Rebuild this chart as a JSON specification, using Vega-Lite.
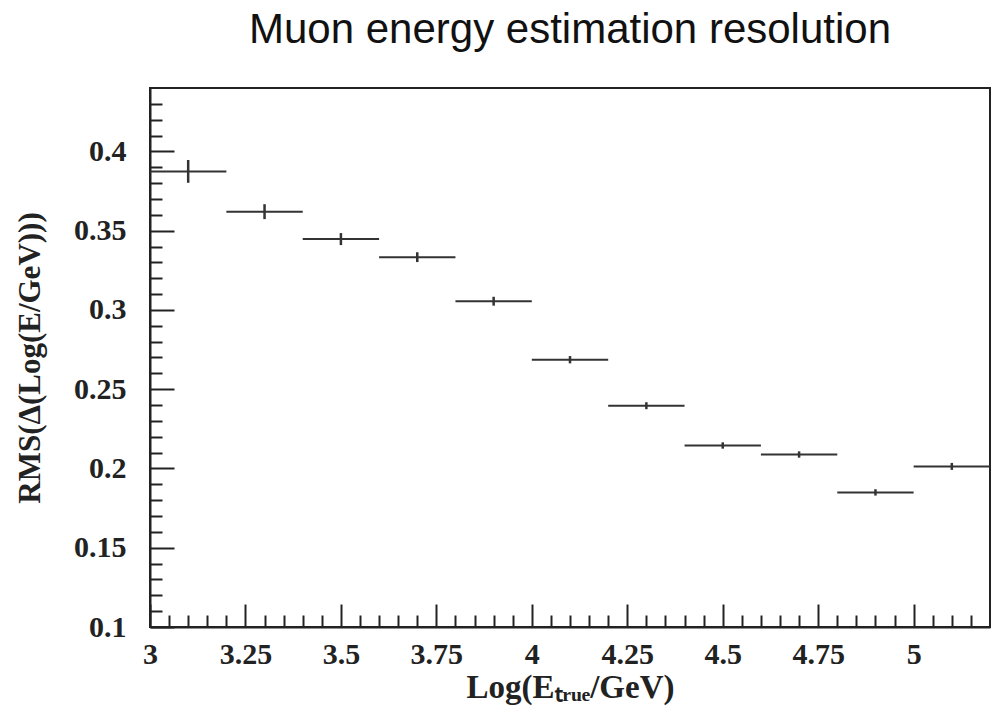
{
  "$schema": "https://vega.github.io/schema/vega-lite/v6.json",
  "width": 840,
  "height": 539,
  "autosize": {"type": "none"},
  "padding": {"left": 150, "top": 88, "right": 8, "bottom": 87},
  "background": "white",
  "title": {
    "text": "Muon energy estimation resolution",
    "font": "Liberation Sans",
    "fontSize": 42,
    "fontWeight": "normal",
    "color": "#111",
    "anchor": "middle",
    "offset": 36
  },
  "config": {
    "view": {"stroke": "#222", "strokeWidth": 2},
    "axis": {
      "grid": false,
      "domainColor": "#222",
      "domainWidth": 2,
      "tickColor": "#222",
      "tickWidth": 2,
      "labelFont": "Liberation Serif",
      "labelFontWeight": "bold",
      "labelColor": "#222",
      "titleFont": "Liberation Serif",
      "titleFontWeight": "bold",
      "titleColor": "#222"
    }
  },
  "data": {
    "values": [
      {"x0": 3.0, "x1": 3.2, "xc": 3.1, "y": 0.3874, "err": 0.0072},
      {"x0": 3.2, "x1": 3.4, "xc": 3.3, "y": 0.362, "err": 0.0047},
      {"x0": 3.4, "x1": 3.6, "xc": 3.5, "y": 0.3447, "err": 0.0038},
      {"x0": 3.6, "x1": 3.8, "xc": 3.7, "y": 0.3333, "err": 0.0031},
      {"x0": 3.8, "x1": 4.0, "xc": 3.9, "y": 0.3055, "err": 0.0028},
      {"x0": 4.0, "x1": 4.2, "xc": 4.1, "y": 0.2686, "err": 0.0023},
      {"x0": 4.2, "x1": 4.4, "xc": 4.3, "y": 0.2396, "err": 0.0022},
      {"x0": 4.4, "x1": 4.6, "xc": 4.5, "y": 0.2145, "err": 0.002},
      {"x0": 4.6, "x1": 4.8, "xc": 4.7, "y": 0.2088, "err": 0.002},
      {"x0": 4.8, "x1": 5.0, "xc": 4.9, "y": 0.1849, "err": 0.002},
      {"x0": 5.0, "x1": 5.2, "xc": 5.1, "y": 0.2013, "err": 0.0022}
    ]
  },
  "transform": [
    {"calculate": "datum.y - datum.err", "as": "ylo"},
    {"calculate": "datum.y + datum.err", "as": "yhi"}
  ],
  "resolve": {"axis": {"x": "independent", "y": "independent"}},
  "layer": [
    {
      "mark": {"type": "rule", "color": "#333", "strokeWidth": 2},
      "encoding": {
        "x": {
          "field": "x0", "type": "quantitative",
          "scale": {"domain": [3, 5.2], "nice": false, "zero": false},
          "axis": {
            "orient": "bottom",
            "values": [3, 3.25, 3.5, 3.75, 4, 4.25, 4.5, 4.75, 5],
            "labelExpr": "'' + datum.value",
            "tickSize": -23,
            "labelPadding": 35,
            "labelFontSize": 30,
            "labelFlush": false,
            "title": "Log(Eₜᵣᵤₑ/GeV)",
            "titleFontSize": 33,
            "titlePadding": 2
          }
        },
        "x2": {"field": "x1"},
        "y": {
          "field": "y", "type": "quantitative",
          "scale": {"domain": [0.1, 0.44], "nice": false, "zero": false},
          "axis": {
            "orient": "left",
            "values": [0.1, 0.15, 0.2, 0.25, 0.3, 0.35, 0.4],
            "labelExpr": "'' + datum.value",
            "tickSize": -24,
            "labelPadding": 48,
            "labelFontSize": 30,
            "labelFlush": false,
            "title": "RMS(Δ(Log(E/GeV)))",
            "titleFontSize": 31,
            "titlePadding": 27
          }
        }
      }
    },
    {
      "mark": {"type": "rule", "color": "#333", "strokeWidth": 2.5},
      "encoding": {
        "x": {
          "field": "xc", "type": "quantitative",
          "axis": {
            "orient": "bottom",
            "values": [3.05, 3.1, 3.15, 3.2, 3.3, 3.35, 3.4, 3.45, 3.55, 3.6, 3.65, 3.7, 3.8, 3.85, 3.9, 3.95, 4.05, 4.1, 4.15, 4.2, 4.3, 4.35, 4.4, 4.45, 4.55, 4.6, 4.65, 4.7, 4.8, 4.85, 4.9, 4.95, 5.05, 5.1, 5.15],
            "tickSize": -12,
            "labels": false,
            "title": null,
            "domain": false
          }
        },
        "y": {
          "field": "ylo", "type": "quantitative",
          "axis": {
            "orient": "left",
            "values": [0.11, 0.12, 0.13, 0.14, 0.16, 0.17, 0.18, 0.19, 0.21, 0.22, 0.23, 0.24, 0.26, 0.27, 0.28, 0.29, 0.31, 0.32, 0.33, 0.34, 0.36, 0.37, 0.38, 0.39, 0.41, 0.42, 0.43],
            "tickSize": -12,
            "labels": false,
            "title": null,
            "domain": false
          }
        },
        "y2": {"field": "yhi"}
      }
    }
  ]
}
